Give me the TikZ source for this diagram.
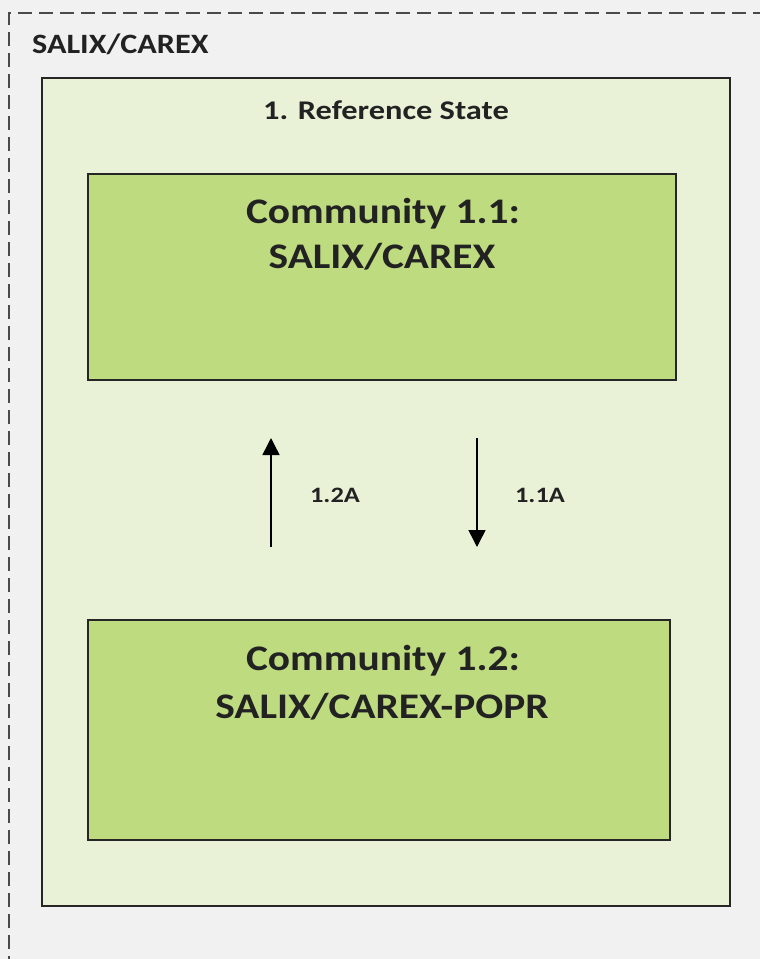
\documentclass[tikz,border=0pt]{standalone}
\usepackage{fontspec}
\setmainfont{Carlito}
\usetikzlibrary{arrows.meta}
\definecolor{bggray}{HTML}{F1F1F1}
\definecolor{refgreen}{HTML}{E9F2D7}
\definecolor{comgreen}{HTML}{BEDB80}
\definecolor{txt}{HTML}{222222}
\definecolor{dashc}{HTML}{4A4A4A}
\newcommand{\wide}[1]{\scalebox{1.15}[1]{#1}}
\tikzset{
  refbox/.style={draw=black!85, line width=1.3pt, fill=refgreen, minimum width=688pt, minimum height=828pt, inner sep=0pt},
  combox/.style={draw=black!85, line width=1.3pt, fill=comgreen, inner sep=0pt},
  comtext/.style={font=\bfseries\fontsize{36}{40}\selectfont, text=txt, inner sep=0pt, anchor=base},
  smalltext/.style={font=\bfseries\fontsize{22}{24}\selectfont, text=txt, inner sep=0pt, anchor=base},
  flow/.style={line width=1.5pt, -{Triangle[width=17pt,length=17pt]}}
}
\begin{document}
\begin{tikzpicture}[x=1pt,y=-1pt]
\useasboundingbox (0,0) rectangle (760,959);
\fill[bggray] (0,0) rectangle (760,959);
\draw[dashc, line width=1.4pt, dash pattern=on 14pt off 7pt] (9,970) -- (9,13) -- (770,13);
\node[font=\bfseries\fontsize{28}{30}\selectfont, text=txt, inner sep=0pt, anchor=base west] (title) at (32,53) {\wide{SALIX/CAREX}};
\node[refbox] (ref) at (386,492) {};
\node[font=\bfseries\fontsize{27}{30}\selectfont, text=txt, inner sep=0pt, anchor=base] (reftitle) at (386,119) {\scalebox{1.2}[1]{1. Reference State}};
\node[combox, minimum width=588pt, minimum height=206pt] (c1) at (382,277) {};
\node[comtext] (c1a) at (383,223) {\wide{Community 1.1:}};
\node[comtext] (c1b) at (382,268) {\wide{SALIX/CAREX}};
\node[combox, minimum width=582pt, minimum height=220pt] (c2) at (379,730) {};
\node[comtext] (c2a) at (383,670) {\wide{Community 1.2:}};
\node[comtext] (c2b) at (382,718) {\wide{SALIX/CAREX-POPR}};
\coordinate (u1) at (271,547);
\coordinate (u2) at (271,438);
\coordinate (d1) at (477,438);
\coordinate (d2) at (477,547);
\draw[flow] (u1) -- (u2);
\draw[flow] (d1) -- (d2);
\node[smalltext] (l1) at (335,502) {\scalebox{1.2}[1]{1.2A}};
\node[smalltext] (l2) at (540,502) {\scalebox{1.2}[1]{1.1A}};
\end{tikzpicture}
\end{document}
